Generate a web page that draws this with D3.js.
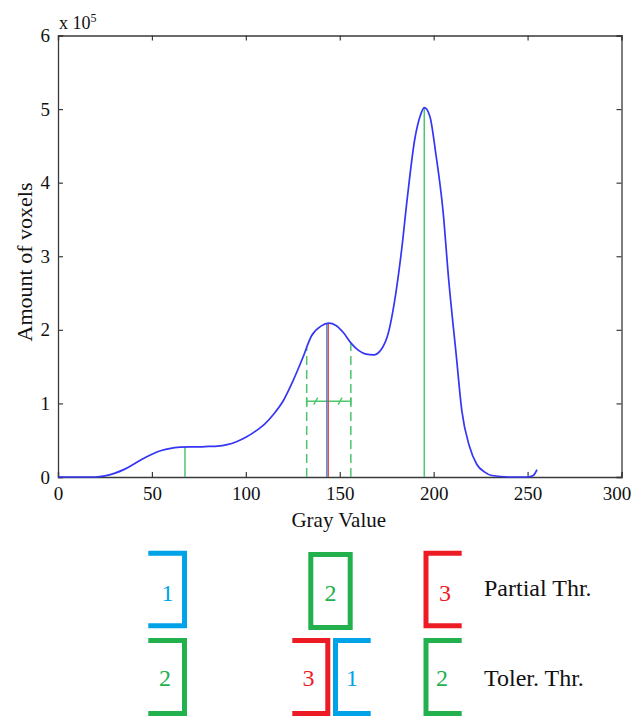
<!DOCTYPE html>
<html>
<head>
<meta charset="utf-8">
<script src="https://cdn.jsdelivr.net/npm/d3@7"></script>
<style>
    html, body { margin: 0; padding: 0; background: #fff; }
    svg { display: block; font-family: 'Liberation Serif', 'Times New Roman', serif; }
</style>
</head>
<body>
<svg id="chart" width="634" height="716"></svg>
<script>
// histogram of gray values (amount of voxels, x 10^5)
var grayValues = [0, 10, 20, 25, 30, 35, 40, 45, 50, 55, 60, 65, 70, 75, 80, 85, 90, 95, 100, 105,
    110, 115, 120, 125, 130, 135, 140, 144, 148, 152, 156, 160, 164, 168, 172, 176, 179, 183, 186, 190,
    193, 195, 198, 201, 205, 208, 212, 215, 219, 223, 227, 231, 240, 250, 253, 254, 255];
var voxelCounts = [0, 0, 0, 0.015, 0.05, 0.10, 0.17, 0.245, 0.31, 0.36, 0.39, 0.405, 0.41, 0.41, 0.415, 0.42, 0.44, 0.48, 0.54, 0.62,
    0.72, 0.86, 1.04, 1.30, 1.60, 1.92, 2.05, 2.09, 2.06, 1.96, 1.82, 1.72, 1.67, 1.66, 1.73, 1.97, 2.36, 3.10, 3.80, 4.60,
    4.92, 5.02, 4.90, 4.42, 3.61, 2.68, 1.66, 0.90, 0.42, 0.17, 0.07, 0.02, 0, 0, 0.02, 0.05, 0.10];

var xTicks = [0, 50, 100, 150, 200, 250, 300];
var yTicks = [0, 1, 2, 3, 4, 5, 6];

// thresholds found on the histogram
var peakGray = [67.6, 195];          // green solid lines
var middlePeakGray = 143.5;          // blue / red pair
var toleranceBounds = [132.4, 155.9]; // green dashed lines
var toleranceLevel = 1.03;
var toleranceMarks = [137.2, 150.2];

// bracket diagram below the chart
var partialLabels = ['1', '2', '3'];
var tolerLabels = ['2', '3', '1', '2'];
var rowTitles = ['Partial Thr.', 'Toler. Thr.'];

(function () {
    'use strict';

    var BLUE = '#3535f5',
        GREEN = '#4cc56c',
        RED = '#e23a3a',
        AXIS = '#3a3a3a',
        P_BLUE = '#00a2e8',
        P_GREEN = '#22b14c',
        P_RED = '#ed1c24';

    var left = 58,
        right = 621.5,
        top = 35.5,
        bottom = 477;

    var svg = d3.select('#chart');

    var x = d3.scaleLinear().domain([0, 300]).range([left, right]);
    var y = d3.scaleLinear().domain([0, 6]).range([bottom, top]);

    // value of the histogram at a gray value (linear between points)
    function countAt(g) {
        var i = d3.bisectLeft(grayValues, g);
        if (i <= 0) return voxelCounts[0];
        if (i >= grayValues.length) return voxelCounts[voxelCounts.length - 1];
        var g0 = grayValues[i - 1], g1 = grayValues[i];
        var t = (g - g0) / (g1 - g0);
        return voxelCounts[i - 1] + t * (voxelCounts[i] - voxelCounts[i - 1]);
    }

    // axes: ticks inside on all four sides
    var tickLen = 5;
    var axisG = svg.append('g').attr('class', 'axes');

    axisG.append('g')
        .attr('class', 'x-bottom')
        .attr('transform', 'translate(0,' + bottom + ')')
        .call(d3.axisBottom(x).tickValues(xTicks).tickSize(-tickLen).tickPadding(10).tickFormat(d3.format('d')));
    axisG.append('g')
        .attr('transform', 'translate(0,' + top + ')')
        .call(d3.axisTop(x).tickValues(xTicks).tickSize(-tickLen).tickFormat(''));
    axisG.append('g')
        .attr('transform', 'translate(' + left + ',0)')
        .call(d3.axisLeft(y).tickValues(yTicks).tickSize(-tickLen).tickPadding(8).tickFormat(d3.format('d')));
    axisG.append('g')
        .attr('transform', 'translate(' + right + ',0)')
        .call(d3.axisRight(y).tickValues(yTicks).tickSize(-tickLen).tickFormat(''));

    axisG.selectAll('.domain').attr('stroke', AXIS).attr('stroke-width', 1.3);
    axisG.selectAll('.tick line').attr('stroke', AXIS).attr('stroke-width', 1.2);
    axisG.selectAll('g').attr('font-family', null);
    axisG.selectAll('.tick text')
        .attr('fill', '#111')
        .style('font-size', '19px')
        .style('font-family', "'Liberation Serif', serif");

    // last x label sits against the window edge, as in the original
    axisG.select('.x-bottom').selectAll('.tick text')
        .filter(function (d) { return d === 300; })
        .attr('dx', -5);

    // scale factor label
    var mult = svg.append('text')
        .attr('x', left + 1)
        .attr('y', 29)
        .attr('fill', '#111')
        .style('font-size', '18px')
        .text('x 10');
    mult.append('tspan')
        .attr('dy', -7)
        .style('font-size', '12px')
        .text('5');

    svg.append('text')
        .attr('x', (left + right) / 2 - 1)
        .attr('y', 527)
        .attr('text-anchor', 'middle')
        .attr('fill', '#111')
        .style('font-size', '21px')
        .text('Gray Value');

    svg.append('text')
        .attr('transform', 'translate(32,' + 262 + ') rotate(-90)')
        .attr('text-anchor', 'middle')
        .attr('fill', '#111')
        .style('font-size', '22px')
        .text('Amount of voxels');

    var plot = svg.append('g').attr('class', 'plot');

    // green dashed tolerance bounds
    plot.selectAll('.bound')
        .data(toleranceBounds)
        .enter().append('line')
        .attr('class', 'bound')
        .attr('x1', function (d) { return x(d); })
        .attr('x2', function (d) { return x(d); })
        .attr('y1', y(0))
        .attr('y2', function (d) { return y(countAt(d)); })
        .attr('stroke', GREEN)
        .attr('stroke-width', 1.5)
        .attr('stroke-dasharray', '9,5');

    // tolerance bar with end caps and slashes
    var ty = y(toleranceLevel);
    plot.append('line')
        .attr('x1', x(toleranceBounds[0])).attr('x2', x(toleranceBounds[1]))
        .attr('y1', ty).attr('y2', ty)
        .attr('stroke', GREEN).attr('stroke-width', 1.5);
    plot.selectAll('.cap')
        .data(toleranceBounds)
        .enter().append('line')
        .attr('class', 'cap')
        .attr('x1', function (d) { return x(d); })
        .attr('x2', function (d) { return x(d); })
        .attr('y1', ty - 4).attr('y2', ty + 4)
        .attr('stroke', GREEN).attr('stroke-width', 1.5);
    plot.selectAll('.slash')
        .data(toleranceMarks)
        .enter().append('line')
        .attr('class', 'slash')
        .attr('x1', function (d) { return x(d) - 2; })
        .attr('x2', function (d) { return x(d) + 2; })
        .attr('y1', ty + 3.5).attr('y2', ty - 3.5)
        .attr('stroke', GREEN).attr('stroke-width', 1.4);

    // green peak lines
    plot.selectAll('.peak')
        .data(peakGray)
        .enter().append('line')
        .attr('class', 'peak')
        .attr('x1', function (d) { return x(d); })
        .attr('x2', function (d) { return x(d); })
        .attr('y1', y(0))
        .attr('y2', function (d) { return y(countAt(d)); })
        .attr('stroke', GREEN)
        .attr('stroke-width', 1.5);

    // blue and red lines side by side at the middle peak
    var midTop = y(countAt(middlePeakGray));
    plot.append('line')
        .attr('x1', x(middlePeakGray) - 0.7).attr('x2', x(middlePeakGray) - 0.7)
        .attr('y1', y(0)).attr('y2', midTop)
        .attr('stroke', '#2f7de0').attr('stroke-width', 1.3);
    plot.append('line')
        .attr('x1', x(middlePeakGray) + 0.7).attr('x2', x(middlePeakGray) + 0.7)
        .attr('y1', y(0)).attr('y2', midTop)
        .attr('stroke', RED).attr('stroke-width', 1.3);

    // histogram curve
    var line = d3.line()
        .x(function (d, i) { return x(grayValues[i]); })
        .y(function (d) { return y(d); })
        .curve(d3.curveMonotoneX);

    plot.append('path')
        .datum(voxelCounts)
        .attr('d', line)
        .attr('fill', 'none')
        .attr('stroke', BLUE)
        .attr('stroke-width', 1.7)
        .attr('stroke-linejoin', 'round');

    // ---- bracket diagram ----
    var diagram = svg.append('g').attr('class', 'diagram');
    var sw = 5;

    function bracket(xv, xh, y0, y1, color) {
        // vertical at xv, horizontals from xv to xh
        diagram.append('path')
            .attr('d', 'M' + xh + ',' + y0 + 'H' + xv + 'V' + y1 + 'H' + xh)
            .attr('fill', 'none')
            .attr('stroke', color)
            .attr('stroke-width', sw)
            .attr('stroke-linejoin', 'miter')
            .attr('stroke-linecap', 'butt');
    }

    function digit(cx, cy, label, color) {
        diagram.append('text')
            .attr('x', cx)
            .attr('y', cy)
            .attr('text-anchor', 'middle')
            .attr('dominant-baseline', 'central')
            .attr('fill', color)
            .style('font-size', '24px')
            .text(label);
    }

    var r1 = [553.3, 625.8],
        r2 = [640.5, 713.5];

    // row 1: partial thresholds
    bracket(184.5, 148.3, r1[0], r1[1], P_BLUE);
    digit(167.5, 593, partialLabels[0], P_BLUE);
    diagram.append('rect')
        .attr('x', 310.8).attr('y', 554.5)
        .attr('width', 39.4).attr('height', 73)
        .attr('fill', 'none')
        .attr('stroke', P_GREEN)
        .attr('stroke-width', sw);
    digit(330.5, 593, partialLabels[1], P_GREEN);
    bracket(426, 461.7, r1[0], r1[1], P_RED);
    digit(445, 593, partialLabels[2], P_RED);

    // row 2: tolerance thresholds
    bracket(184.5, 148.3, r2[0], r2[1], P_GREEN);
    digit(165, 678, tolerLabels[0], P_GREEN);
    bracket(327.8, 292.3, r2[0], r2[1], P_RED);
    digit(308.5, 678, tolerLabels[1], P_RED);
    bracket(335.5, 370.7, r2[0], r2[1], P_BLUE);
    digit(352, 678, tolerLabels[2], P_BLUE);
    bracket(426, 461.7, r2[0], r2[1], P_GREEN);
    digit(442, 678, tolerLabels[3], P_GREEN);

    diagram.selectAll('.row-title')
        .data(rowTitles)
        .enter().append('text')
        .attr('class', 'row-title')
        .attr('x', 484)
        .attr('y', function (d, i) { return i === 0 ? 596 : 686; })
        .attr('fill', '#111')
        .style('font-size', '24px')
        .text(function (d) { return d; });
})();
</script>
</body>
</html>
